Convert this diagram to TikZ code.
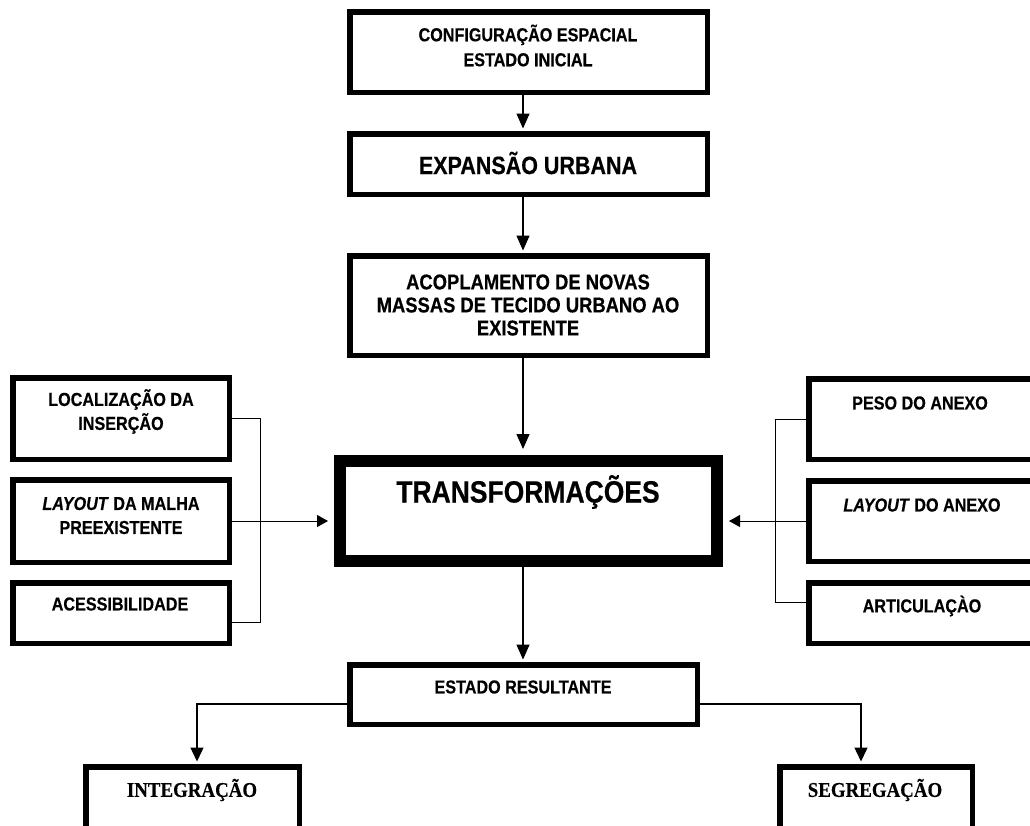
\documentclass[tikz,border=0pt]{standalone}
\usepackage{fontspec}
\setmainfont{Liberation Sans}
\newfontfamily\nar[FakeStretch=0.86,FakeBold=0.4]{Liberation Sans}
\newfontfamily\narserif[FakeStretch=0.9,FakeBold=0.3]{Liberation Serif}
\usetikzlibrary{arrows.meta,calc}
\begin{document}
\begin{tikzpicture}[x=1pt,y=-1pt,
  box/.style={draw, line width=5.5pt, inner sep=0pt},
  bigbox/.style={draw, line width=12pt, inner sep=0pt},
  lbl/.style={inner sep=0pt, align=center},
  conn/.style={line width=1.4pt, -{Triangle[length=15pt,width=13pt]}},
  sidel/.style={line width=1pt},
  sidea/.style={line width=1pt, -{Triangle[length=11pt,width=12pt]}},
  botc/.style={line width=1.4pt, -{Triangle[length=14pt,width=13pt]}}]
\fill[white] (0,0) rectangle (1030,825);
\clip (0,0) rectangle (1030,825);
% boxes
\node[box, minimum width=357.5pt, minimum height=80.5pt] (cfg) at (528.5,52) {};
\node[box, minimum width=357.5pt, minimum height=60.5pt] (exp) at (528.5,164) {};
\node[box, minimum width=357.5pt, minimum height=99.5pt] (aco) at (528.5,305.5) {};
\node[bigbox, minimum width=377pt, minimum height=100pt] (tr) at (528.5,511) {};
\node[box, minimum width=216.5pt, minimum height=81.5pt] (l1) at (121,418.5) {};
\node[box, minimum width=216.5pt, minimum height=82.5pt] (l2) at (121,521) {};
\node[box, minimum width=216.5pt, minimum height=60.5pt] (l3) at (121,613) {};
\node[box, minimum width=233.5pt, minimum height=80.5pt] (r1) at (925.5,419) {};
\node[box, minimum width=233.5pt, minimum height=80.5pt] (r2) at (925.5,521) {};
\node[box, minimum width=233.5pt, minimum height=60.5pt] (r3) at (925.5,613) {};
\node[box, minimum width=347.5pt, minimum height=59.5pt] (est) at (523.5,694.5) {};
\node[box, minimum width=213.5pt, minimum height=75.5pt] (int) at (192.5,804.5) {};
\node[box, minimum width=192.5pt, minimum height=75.5pt] (seg) at (876,804.5) {};
% texts
\node[lbl, font={\nar\bfseries\fontsize{18.8}{25}\selectfont}] (cfgt) at (528,45.5) {CONFIGURAÇÃO ESPACIAL\\ESTADO INICIAL};
\node[lbl, font={\nar\bfseries\fontsize{25}{28}\selectfont}] (expt) at (528,163) {EXPANSÃO URBANA};
\node[lbl, font={\nar\bfseries\fontsize{21.4}{23}\selectfont}] (acot) at (528,305) {ACOPLAMENTO DE NOVAS\\MASSAS DE TECIDO URBANO AO\\EXISTENTE};
\node[lbl, font={\nar\bfseries\fontsize{30.8}{34}\selectfont}] (trt) at (528,492) {TRANSFORMAÇÕES};
\node[lbl, font={\nar\bfseries\fontsize{18.8}{24}\selectfont}] (l1t) at (121,411.5) {LOCALIZAÇÃO DA\\INSERÇÃO};
\node[lbl, font={\nar\bfseries\fontsize{18.8}{24}\selectfont}] (l2t) at (121,515.5) {\textit{LAYOUT} DA MALHA\\PREEXISTENTE};
\node[lbl, font={\nar\bfseries\fontsize{18.8}{24}\selectfont}] (l3t) at (120,604) {ACESSIBILIDADE};
\node[lbl, font={\nar\bfseries\fontsize{18.8}{24}\selectfont}] (r1t) at (920,403) {PESO DO ANEXO};
\node[lbl, font={\nar\bfseries\fontsize{18.8}{24}\selectfont}] (r2t) at (922,505) {\textit{LAYOUT} DO ANEXO};
\node[lbl, font={\nar\bfseries\fontsize{18.8}{24}\selectfont}] (r3t) at (922,606) {ARTICULAÇÀO};
\node[lbl, font={\nar\bfseries\fontsize{18.8}{24}\selectfont}] (estt) at (523,687) {ESTADO RESULTANTE};
\node[lbl, font={\narserif\bfseries\fontsize{21}{24}\selectfont}] (intt) at (192,790) {INTEGRAÇÃO};
\node[lbl, font={\narserif\bfseries\fontsize{21}{24}\selectfont}] (segt) at (875,790) {SEGREGAÇÃO};
% axis
\coordinate (ax) at (523,0);
% main vertical connectors
\draw[conn, shorten >=2.5pt] (cfg.south -| ax) -- (exp.north -| ax);
\draw[conn, shorten >=2.5pt] (exp.south -| ax) -- (aco.north -| ax);
\draw[conn, shorten >=6pt] (aco.south -| ax) -- (tr.north -| ax);
\draw[conn, shorten >=2.5pt] (tr.south -| ax) -- (est.north -| ax);
% left side
\coordinate (l3c) at ($(l3.east)+(0,9)$);
\draw[sidel] (l1.east) -- ++(28.75,0) coordinate (lj) -- (lj |- l3c) -- (l3c);
\draw[sidea, shorten >=6pt] (l2.east) -- (l2.east -| tr.west);
% right side
\coordinate (r3c) at ($(r3.west)+(0,-11)$);
\draw[sidel] (r1.west) -- ++(-30.75,0) coordinate (rj) -- (rj |- r3c) -- (r3c);
\draw[sidea, shorten >=6pt] (r2.west) -- (r2.west -| tr.east);
% bottom
\coordinate (estl) at ($(est.west)+(0,9.5)$);
\coordinate (estr) at ($(est.east)+(0,9.5)$);
\coordinate (intn) at ($(int.north)+(4.5,0)$);
\coordinate (segn) at ($(seg.north)+(-15,0)$);
\draw[botc, shorten >=2.5pt] (estl) -| (intn);
\draw[botc, shorten >=2.5pt] (estr) -| (segn);
\end{tikzpicture}
\end{document}
